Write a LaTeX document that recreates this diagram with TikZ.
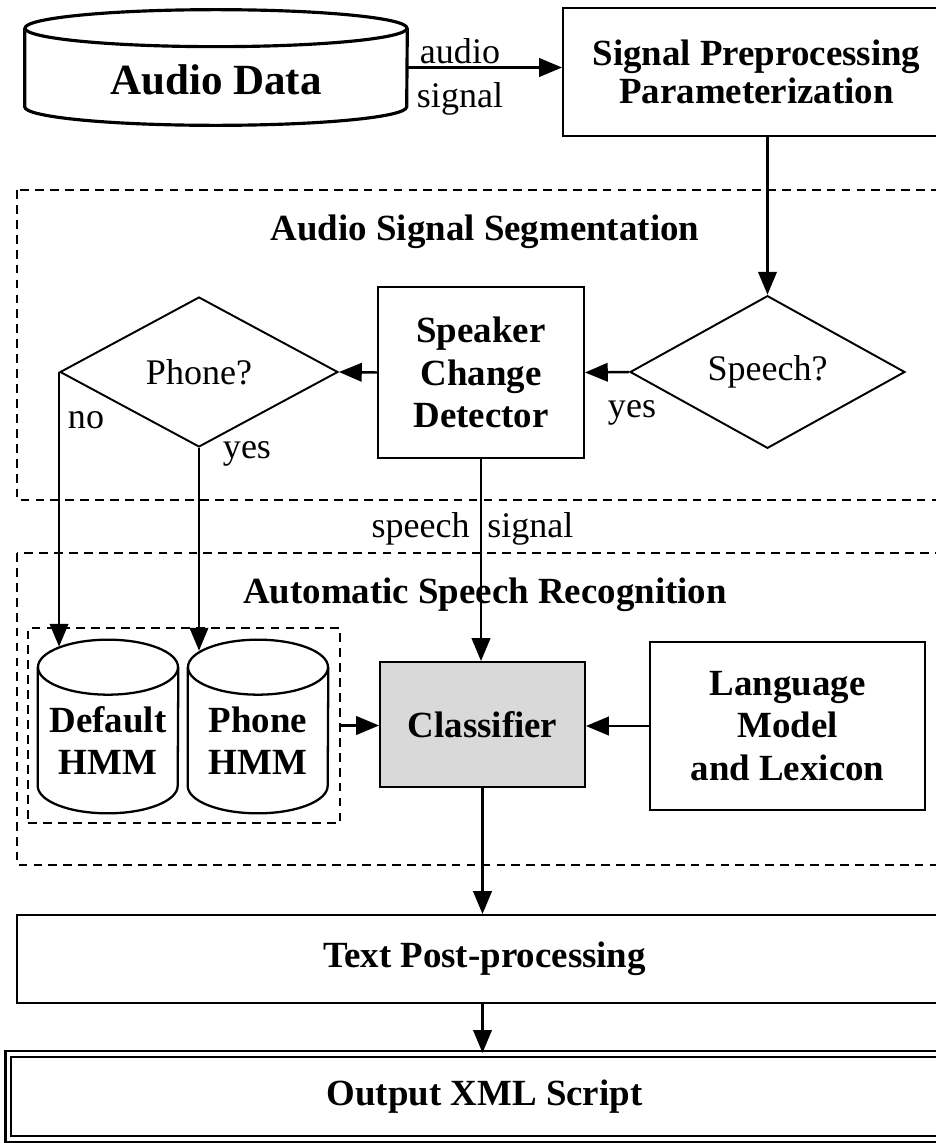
\documentclass[tikz,border=0pt]{standalone}
\usepackage{fontspec}
\setmainfont{Liberation Serif}
\usetikzlibrary{positioning}
\usetikzlibrary{shapes.geometric, arrows.meta, calc}

\definecolor{clsgray}{RGB}{217,217,217}
\tikzset{
  blk/.style={draw, line width=1.1pt, align=center, inner sep=0pt, font=\bfseries\fontsize{21}{24}\selectfont},
  choice/.style={draw, diamond, line width=1.1pt, inner sep=0pt, font=\fontsize{20.5}{24}\selectfont},
  store/.style={line width=1.3pt},
  grp/.style={draw, line width=1.2pt, dash pattern=on 5pt off 3.5pt},
  lbl/.style={font=\fontsize{20.5}{24}\selectfont, inner sep=0pt},
  ttl/.style={font=\bfseries\fontsize{21}{24}\selectfont, inner sep=0pt},
  arr/.style={line width=1.4pt, -{Triangle[length=13pt,width=10.5pt]}}
}
% outline of a drum round a named node: name, x radius, y radius, line width
\newcommand{\drum}[4]{
  \draw[store, line width=#4] ($(#1.north west)+(0,#3)$) -- ($(#1.south west)-(0,#3)$)
    arc[start angle=180, end angle=0, x radius=#2, y radius=#3] -- ($(#1.north east)+(0,#3)$);
  \draw[store, line width=#4] ($(#1.north)+(0,#3)$) ellipse[x radius=#2, y radius=#3];
}

\begin{document}
\begin{tikzpicture}[x=0.02cm,y=-0.02cm]
\useasboundingbox (0,0) rectangle (936,1143);
\clip (0,0) rectangle (936,1143);

\draw[grp] (17,190) rectangle (960,500);
\draw[grp] (17,553) rectangle (960,865);
\node[ttl, anchor=base] (segttl) at (485,240) {Audio Signal Segmentation};
\node[ttl, anchor=base] (asrttl) at (485,603) {Automatic Speech Recognition};

\node[minimum width=7.64cm, minimum height=2.3cm, inner sep=0pt,
  label={[font=\bfseries\fontsize{24.5}{28}\selectfont, yshift=-7pt]center:Audio Data}] (audio) at (216,67.5) {};
\drum{audio}{191}{18.5}{1.8pt}
\node[blk, minimum width=7.74cm, minimum height=2.56cm, font=\bfseries\fontsize{21}{22}\selectfont] (prep) at (756.5,72) {Signal Preprocessing\\Parameterization};

\node[choice, minimum width=5.5cm, minimum height=2.98cm] (speech) at (767.5,372) {Speech?};
\node[blk, minimum width=4.12cm, minimum height=3.42cm] (scd) at (481,372.5) {Speaker\\Change\\Detector};
\node[choice, minimum width=5.56cm, minimum height=3cm] (phone) at (199,372) {Phone?};

\node[grp, minimum width=6.24cm, minimum height=3.9cm] (models) at (184,725.5) {};
\node[minimum width=2.8cm, minimum height=3.46cm, inner sep=0pt,
  label={[font=\bfseries\fontsize{21}{24}\selectfont, align=center, yshift=-8pt]center:Default\\HMM}] (dflt) at (108,726.5) {};
\drum{dflt}{70}{27.5}{1.3pt}
\node[minimum width=2.8cm, minimum height=3.46cm, inner sep=0pt,
  label={[font=\bfseries\fontsize{21}{24}\selectfont, align=center, yshift=-8pt]center:Phone\\HMM}] (phmm) at (258,726.5) {};
\drum{phmm}{70}{27.5}{1.3pt}
\node[blk, fill=clsgray, minimum width=4.1cm, minimum height=2.5cm] (cls) at (482.5,724.5) {Classifier};
\node[blk, minimum width=5.5cm, minimum height=3.36cm] (lm) at (787.5,726) {Language\\Model\\and Lexicon};

\node[blk, minimum width=18.7cm, minimum height=1.76cm] (post) at (484.5,959) {Text Post-processing};
\node[blk, double, line width=1.3pt, double distance=1.8pt, minimum width=19.06cm, minimum height=1.7cm] (out) at (484.5,1096.5) {Output XML Script};

\draw[arr] (audio.east) -- (audio.east -| prep.west);
\node[lbl, anchor=base] (au) at (460,63) {audio};
\node[lbl, anchor=base] (sg) at (460,107) {signal};

\draw[arr] (speech.north |- prep.south) -- (speech.north);
\draw[arr] (speech.west) -- (scd.east);
\node[lbl, anchor=base] (yes1) at (632,417) {yes};
\draw[arr] (scd.west) -- (phone.east);
\draw[arr] (phone.west) -- ($(phone.west |- dflt.north)+(0,7)$);
\node[lbl, anchor=base] (no) at (86,428) {no};
\draw[arr] (phone.south) -- ($(phone.south |- phmm.north)+(0,11)$);
\node[lbl, anchor=base] (yes2) at (247,458) {yes};

\draw[arr] (scd.south) -- (scd.south |- cls.north);
\node[lbl, anchor=base east] (sp) at (470,537) {speech};
\node[lbl, anchor=base west] (sgl) at (487,537) {signal};

\draw[arr] (models.east) -- (models.east -| cls.west);
\draw[arr] (lm.west) -- (lm.west -| cls.east);
\draw[arr] (cls.south) -- (cls.south |- post.north);
\draw[arr] (cls.south |- post.south) -- (cls.south |- out.north);

\end{tikzpicture}
\end{document}
